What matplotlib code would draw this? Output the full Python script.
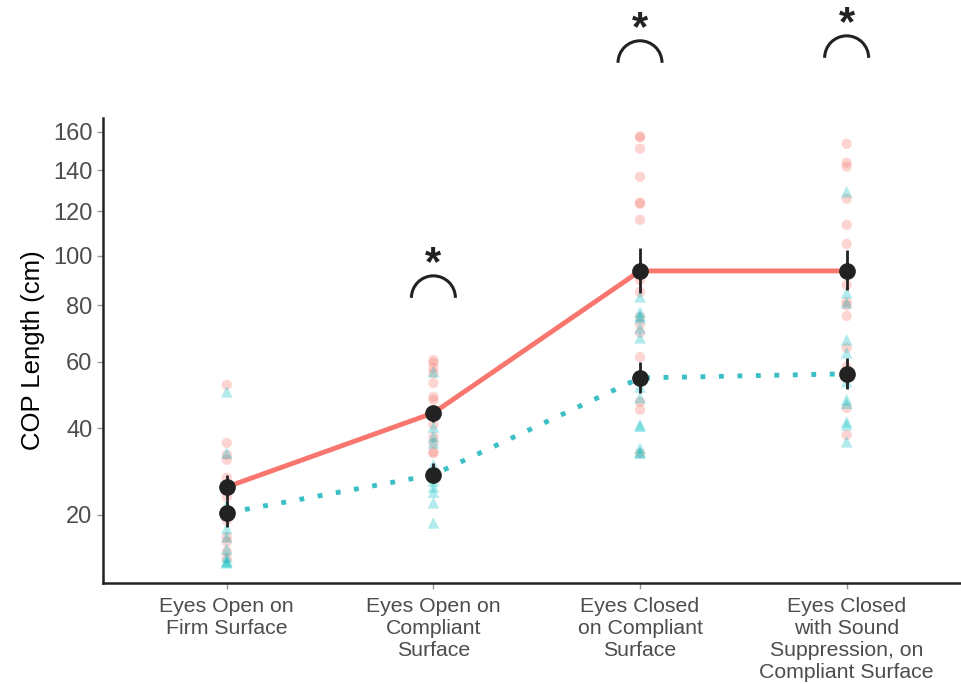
import numpy as np
import matplotlib
matplotlib.use("Agg")
import matplotlib.pyplot as plt
from matplotlib.patches import Arc
from matplotlib.transforms import ScaledTranslation

plt.rcParams['font.family'] = ['Liberation Sans', 'DejaVu Sans']

conditions = ["Eyes Open on\nFirm Surface",
              "Eyes Open on\nCompliant\nSurface",
              "Eyes Closed\non Compliant\nSurface",
              "Eyes Closed\nwith Sound\nSuppression, on\nCompliant Surface"]

# individual values, group A (salmon circles) and group B (teal triangles)
red_pts = [
    [52.5, 36.1, 33.1, 31.9, 27.7, 25.0, 23.6, 19.0, 16.0, 15.2, 13.6, 12.5],
    [60.5, 59.6, 57.9, 56.3, 53.1, 48.9, 48.0, 44.0, 40.9, 37.7, 36.1, 33.8, 33.5],
    [157.5, 157.0, 151.0, 136.6, 124.0, 123.5, 116.0, 90.0, 85.2, 75.7, 73.0, 69.9, 61.5, 47.4, 45.1, 33.5],
    [153.6, 143.7, 141.7, 125.9, 113.7, 105.2, 88.0, 81.3, 80.0, 76.0, 64.6, 58.2, 45.6, 38.2],
]
blue_pts = [
    [50.4, 33.5, 22.0, 21.0, 20.0, 17.5, 16.0, 14.0, 12.8, 12.2, 11.9, 12.0],
    [56.6, 40.3, 37.7, 36.1, 30.7, 27.0, 25.7, 24.6, 22.4, 18.5],
    [83.3, 77.5, 76.0, 75.3, 71.6, 68.1, 51.9, 48.6, 40.9, 40.5, 34.8, 33.8, 33.5],
    [129.2, 84.9, 81.0, 67.4, 62.9, 53.5, 48.0, 47.0, 41.7, 40.9, 36.4],
]

# group means and error bar ends
red_mean = [25.7, 44.2, 93.7, 93.7]
red_lo = [23.0, 41.7, 84.9, 86.0]
red_hi = [28.4, 45.9, 103.5, 102.6]
blue_mean = [20.4, 28.4, 54.7, 56.0]
blue_lo = [17.8, 26.6, 50.1, 51.3]
blue_hi = [23.0, 31.2, 59.9, 61.2]

# significance marks (category index, base height of arc)
sig_x = [1, 2, 3]
sig_y = [82.9, 199.4, 202.4]

red = '#F8766D'
teal = '#00BFC4'

fig = plt.figure(figsize=(9.61, 6.84), dpi=100)
ax = fig.add_axes([0.107, 0.1477, 0.903, 0.68])
ax.set_yscale('function', functions=(lambda v: np.sqrt(np.clip(v, 0, None)), lambda v: v ** 2))

x = np.arange(len(conditions))

for i in range(len(conditions)):
    ax.scatter([x[i]] * len(red_pts[i]), red_pts[i], s=55, marker='o', color=red,
               alpha=0.3, edgecolors='none', zorder=2)
    ax.scatter([x[i]] * len(blue_pts[i]), blue_pts[i], s=70, marker='^', color=teal,
               alpha=0.3, edgecolors='none', zorder=2)

ax.plot(x, red_mean, color=red, lw=3.5, solid_capstyle='butt', zorder=3)
ax.plot(x, blue_mean, color='#3BBFC6', lw=3.5, linestyle=(0, (1, 2.8)), zorder=3)

ax.vlines(x, red_lo, red_hi, color='#222222', lw=2, zorder=4)
ax.vlines(x, blue_lo, blue_hi, color='#222222', lw=2, zorder=4)
ax.plot(x, red_mean, 'o', color='#222222', ms=11, zorder=5)
ax.plot(x, blue_mean, 'o', color='#222222', ms=11, zorder=5)

for sx, sy in zip(sig_x, sig_y):
    tr = fig.dpi_scale_trans + ScaledTranslation(sx, sy, ax.transData)
    arc = Arc((0, 0), 0.44, 0.44, theta1=0, theta2=180, transform=tr,
              color='#222222', lw=2.2, clip_on=False)
    ax.add_patch(arc)
    ax.text(0, 0.34, '*', transform=tr, ha='center', va='center',
            fontsize=30, fontweight='bold', color='#222222', clip_on=False)

ax.set_xlim(-0.6, 3.6)
ax.set_ylim(9.12, 167.6)
ax.set_yticks([20, 40, 60, 80, 100, 120, 140, 160])
ax.set_yticklabels(['20', '40', '60', '80', '100', '120', '140', '160'])
ax.set_xticks(x)
ax.set_xticklabels(conditions, fontsize=15.3, color='#4D4D4D', linespacing=1.2)
ax.tick_params(axis='y', labelsize=17, labelcolor='#4D4D4D', color='#999999', length=4, width=1)
ax.tick_params(axis='x', color='#999999', length=4, width=1, pad=6)
ax.set_ylabel('COP Length (cm)', fontsize=18.5, color='black', labelpad=6)

for side in ['top', 'right']:
    ax.spines[side].set_visible(False)
for side in ['left', 'bottom']:
    ax.spines[side].set_linewidth(1.8)
    ax.spines[side].set_color('#222222')

fig.savefig('out.png', dpi=100)
